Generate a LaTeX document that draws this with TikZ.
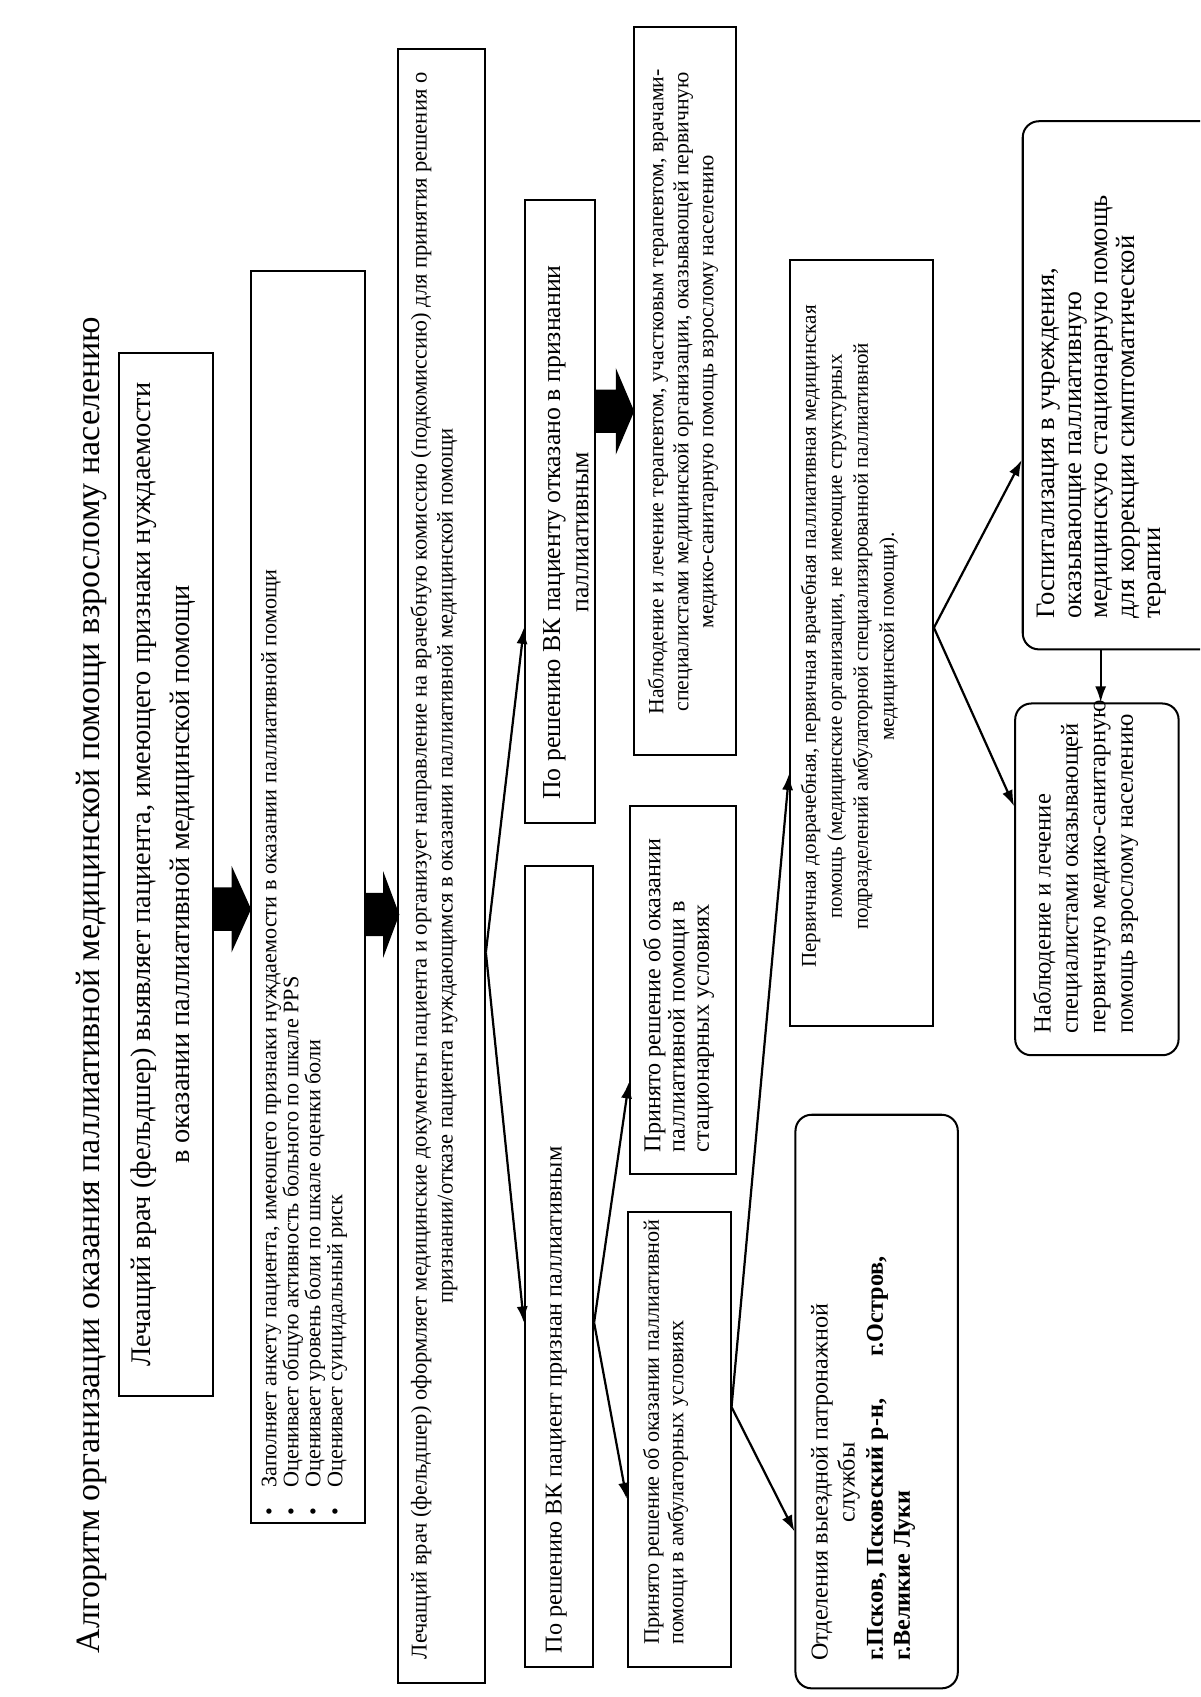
\documentclass[tikz,border=0pt]{standalone}
\usepackage{fontspec}
\setmainfont{Liberation Serif}
\usetikzlibrary{fit,arrows.meta}
\newcommand\bul{\makebox[14pt][l]{•}}
\begin{document}
\begin{tikzpicture}[x=0.53692pt,y=-0.53692pt,
  box/.style={draw, line width=1pt, inner sep=0pt},
  rbox/.style={box, rounded corners=8pt},
  txt/.style={rotate=90, inner sep=0pt, align=left},
  ctxt/.style={rotate=90, inner sep=0pt, align=center},
  arr/.style={line width=1.1pt, -{Latex[length=8pt,width=5.5pt]}},
  blk/.style={fill=black}]
\useasboundingbox (0,0) rectangle (1109,1568);
\clip (0,0) rectangle (1109,1568);
\fill[white] (0,0) rectangle (1109,1568);

% title
\node[ctxt, font=\fontsize{16.9}{20}\selectfont] (title) at (85,910)
  {Алгоритм организации оказания паллиативной медицинской помощи взрослому населению};

% box 1
\node[box, fit={(110,326) (197,1290)}] (b1) {};
\node[ctxt, font=\fontsize{14.1}{19.3}\selectfont] (t1) at (151,808)
  {Лечащий врач (фельдшер) выявляет пациента, имеющего признаки нуждаемости\\в оказании паллиативной медицинской помощи};

% block arrow 1
\fill[blk] (197,820) -- (214,820) -- (214,800) -- (232,840) -- (214,880) -- (214,860) -- (197,860) -- cycle;

% box 2
\node[box, fit={(232,250) (337,1407)}] (b2) {};
\node[txt, anchor=west, font=\fontsize{11}{10.9}\selectfont] (t2) at (281,1401)
  {\bul Заполняет анкету пациента, имеющего признаки нуждаемости в оказании паллиативной помощи\\
   \bul Оценивает общую активность больного по шкале PPS\\
   \bul Оценивает уровень боли по шкале оценки боли\\
   \bul Оценивает суицидальный риск};

% block arrow 2
\fill[blk] (337,825) -- (354,825) -- (354,805) -- (369,845) -- (354,885) -- (354,865) -- (337,865) -- cycle;

% box 3
\node[box, fit={(368,45) (448,1555)}] (b3) {};
\node[ctxt, font=\fontsize{11.2}{12.9}\selectfont] (t3) at (401,800)
  {Лечащий врач (фельдшер) оформляет медицинские документы пациента и организует направление на врачебную комиссию (подкомиссию) для принятия решения о\\признании/отказе пациента нуждающимся в оказании паллиативной медицинской помощи};

% box 4
\node[box, fit={(485,185) (550,760)}] (b4) {};
\node[ctxt, font=\fontsize{12.8}{14}\selectfont] (t4) at (523,492)
  {По решению ВК пациенту отказано в признании\\паллиативным};

% box 5
\node[box, fit={(485,800) (548,1540)}] (b5) {};
\node[txt, anchor=west, font=\fontsize{12}{13.4}\selectfont] (t5) at (514,1528)
  {По решению ВК пациент признан паллиативным};

% block arrow 4
\fill[blk] (550,360) -- (569,360) -- (569,340) -- (586,380) -- (569,420) -- (569,400) -- (550,400) -- cycle;

% box 6R
\node[box, fit={(586,25) (680,698)}] (b6r) {};
\node[ctxt, font=\fontsize{10.8}{12.4}\selectfont] (t6r) at (631,362)
  {Наблюдение и лечение терапевтом, участковым терапевтом, врачами-\\специалистами медицинской организации, оказывающей первичную\\медико-санитарную помощь взрослому населению};

% box 6
\node[box, fit={(582,745) (680,1085)}] (b6) {};
\node[txt, anchor=west, font=\fontsize{12}{12}\selectfont] (t6) at (627,1065)
  {Принято решение об оказании\\паллиативной помощи в\\стационарных условиях};

% box 7
\node[box, fit={(580,1120) (675,1540)}] (b7) {};
\node[txt, anchor=west, font=\fontsize{11}{12.2}\selectfont] (t7) at (615,1520)
  {Принято решение об оказании паллиативной\\помощи в амбулаторных условиях};

% box 8
\node[box, fit={(730,240) (862,948)}] (b8) {};
\node[ctxt, font=\fontsize{10.45}{12.9}\selectfont] (t8) at (785,588)
  {Первичная доврачебная, первичная врачебная паллиативная медицинская\\помощь (медицинские организации, не имеющие структурных\\подразделений амбулаторной специализированной паллиативной\\медицинской помощи).};

% box 9
\node[rbox, fit={(735,1030) (885,1560)}] (b9) {};
\node[ctxt, anchor=west, font=\fontsize{12}{13.4}\selectfont] (t9a) at (772,1535)
  {Отделения выездной патронажной\\службы};
\node[txt, anchor=west, font=\fontsize{12}{13.4}\selectfont\bfseries] (t9b) at (823,1535)
  {г.Псков, Псковский р-н,\hspace{1.5em} г.Остров,\\г.Великие Луки};

% box 10
\node[rbox, fit={(945,112) (1140,600)}] (b10) {};
\node[txt, anchor=west, font=\fontsize{13.2}{13.2}\selectfont] (t10) at (1018,572)
  {Госпитализация в учреждения,\\оказывающие паллиативную\\медицинскую стационарную помощь\\для коррекции симптоматической\\терапии};

% box 11
\node[rbox, fit={(938,650) (1089,975)}] (b11) {};
\node[txt, anchor=west, font=\fontsize{12.2}{13.6}\selectfont] (t11) at (1003,955)
  {Наблюдение и лечение\\специалистами оказывающей\\первичную медико-санитарную\\помощь взрослому населению};

% level coordinates
\coordinate (y880) at (0,880);
\coordinate (y580) at (0,580);
\coordinate (y1222) at (0,1222);
\coordinate (y1000) at (0,1000);
\coordinate (y1385) at (0,1385);
\coordinate (y1300) at (0,1300);
\coordinate (y715) at (0,715);
\coordinate (y1415) at (0,1415);
\coordinate (y425) at (0,425);
\coordinate (y745) at (0,745);
\coordinate (x1017) at (1017,0);

% connectors
\coordinate (v1) at (b3.east |- y880);
\draw[arr] (v1) -- (b4.west |- y580);
\draw[arr] (v1) -- (b5.west |- y1222);
\coordinate (v2) at (b5.east |- y1222);
\draw[arr] (v2) -- (b6.west |- y1000);
\draw[arr] (v2) -- (b7.west |- y1385);
\coordinate (v3) at (b7.east |- y1300);
\draw[arr] (v3) -- (b8.west |- y715);
\draw[arr] (v3) -- (b9.west |- y1415);
\coordinate (v4) at (b8.east |- y580);
\draw[arr] (v4) -- (b10.west |- y425);
\draw[arr] (v4) -- (b11.west |- y745);
\draw[arr] (b10.south -| x1017) -- (b11.north -| x1017);
\end{tikzpicture}
\end{document}
